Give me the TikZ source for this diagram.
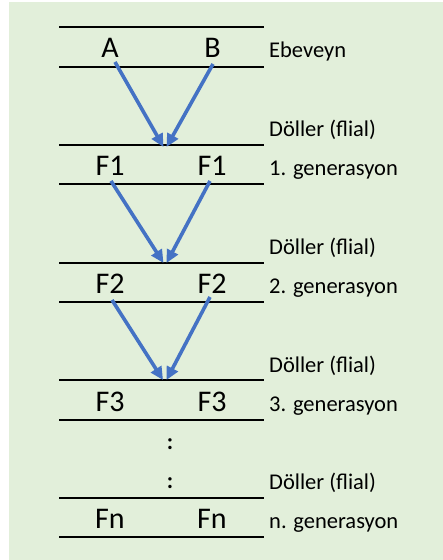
\documentclass[tikz,border=0pt]{standalone}
\usepackage{fontspec}
\setmainfont{Carlito}
\usetikzlibrary{arrows.meta}
\definecolor{panel}{HTML}{E2EFDA}
\definecolor{arrowblue}{HTML}{4472C4}
\begin{document}
\begin{tikzpicture}[x=1pt,y=1pt,
  rule/.style={line width=2.6pt,black},
  letter/.style={anchor=base,inner sep=0pt,font=\fontsize{30}{32}\selectfont},
  tag/.style={anchor=base west,inner sep=0pt,font=\fontsize{22.5}{26}\selectfont},
  dots/.style={anchor=base,inner sep=0pt,font=\fontsize{23}{26}\selectfont\bfseries},
  arr/.style={line width=3.6pt,arrowblue,-{Triangle[length=13pt,width=12pt]}}]
  \useasboundingbox (0,0) rectangle (443,560);
  \fill[panel] (9,0) rectangle (443,558);

  % horizontal rules bounding each generation
  \foreach \y [count=\i] in {533,493,415,376,297,258,180,140,62,23}
    \draw[rule] (59,\y) coordinate (r\i) -- (264,\y);

  % generation symbols
  \node[letter] (A)  at (110,502) {A};
  \node[letter] (B)  at (212.5,502) {B};
  \node[letter] (F1a) at (110,384) {F1};
  \node[letter] (F1b) at (212,384) {F1};
  \node[letter] (F2a) at (110,266) {F2};
  \node[letter] (F2b) at (212,266) {F2};
  \node[letter] (F3a) at (110,148) {F3};
  \node[letter] (F3b) at (212,148) {F3};
  \node[letter] (Fna) at (110,31) {Fn};
  \node[letter] (Fnb) at (212,31) {Fn};

  \node[dots] (d1) at (170,110) {:};
  \node[dots] (d2) at (170,71) {:};

  % row labels
  \node[tag] (l0) at (269,502) {Ebeveyn};
  \node[tag] (k1) at (269,423) {Döller (flial)};
  \node[tag] (l1) at (269,384) {1. generasyon};
  \node[tag] (k2) at (269,305) {Döller (flial)};
  \node[tag] (l2) at (269,266) {2. generasyon};
  \node[tag] (k3) at (269,187) {Döller (flial)};
  \node[tag] (l3) at (269,148) {3. generasyon};
  \node[tag] (k4) at (269,70) {Döller (flial)};
  \node[tag] (l4) at (269,31) {n. generasyon};

  % meeting points of the crossing arrows
  \coordinate (t1l) at (163.5,413);
  \coordinate (t1r) at (166.5,413);
  \coordinate (t2l) at (163.5,297);
  \coordinate (t2r) at (166.5,297);
  \coordinate (t3l) at (163,180);
  \coordinate (t3r) at (166.5,180);

  \draw[arr] ([shift={(5pt,-4pt)}]A.base) -- (t1l);
  \draw[arr] ([shift={(0.5pt,-6pt)}]B.base) -- (t1r);
  \draw[arr] ([shift={(1pt,-5pt)}]F1a.base) -- (t2l);
  \draw[arr] ([shift={(-2pt,-5pt)}]F1b.base) -- (t2r);
  \draw[arr] ([shift={(2pt,-6pt)}]F2a.base) -- (t3l);
  \draw[arr] ([shift={(-2pt,-3pt)}]F2b.base) -- (t3r);
\end{tikzpicture}
\end{document}
